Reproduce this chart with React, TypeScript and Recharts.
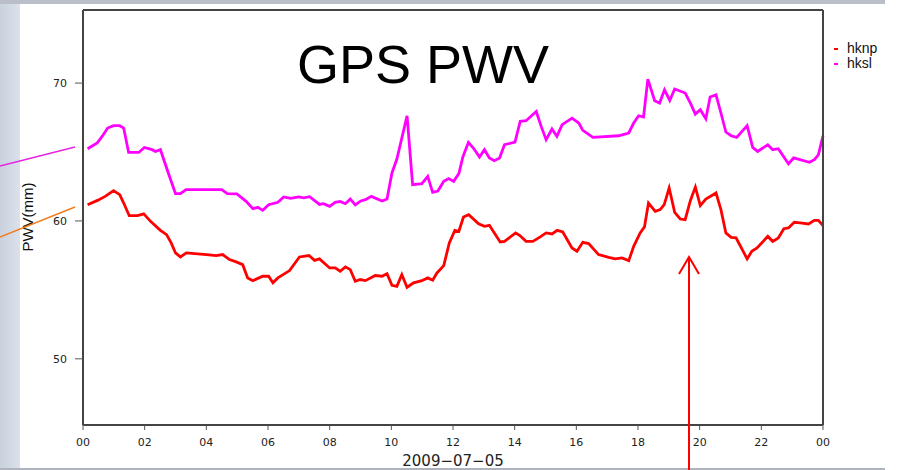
import React from 'react';
import { LineChart, Line, XAxis, YAxis, Legend } from 'recharts';

// hours of day on 2009-07-05, 0 = 00:00, 24 = next 00:00
const hourTicks = [0, 2, 4, 6, 8, 10, 12, 14, 16, 18, 20, 22, 24];
const pwvTicks = [50, 60, 70];

const hknpHours = [
  0.15, 0.47, 0.72, 0.99, 1.19, 1.32, 1.5, 1.77, 1.97, 2.19, 2.51, 2.71, 2.86, 3.0, 3.16, 3.35,
  4.0, 4.32, 4.53, 4.75, 4.97, 5.18, 5.34, 5.51, 5.83, 6.02, 6.16, 6.32, 6.7, 7.02, 7.33, 7.51,
  7.67, 8.0, 8.18, 8.34, 8.51, 8.67, 8.83, 8.99, 9.16, 9.48, 9.7, 9.86, 10.02, 10.18, 10.34, 10.51,
  10.72, 10.99, 11.18, 11.34, 11.48, 11.7, 11.88, 12.06, 12.19, 12.34, 12.51, 12.83, 13.02, 13.18,
  13.53, 13.67, 14.03, 14.16, 14.37, 14.59, 14.83, 15.02, 15.21, 15.38, 15.56, 15.86, 16.02, 16.21,
  16.4, 16.72, 17.05, 17.26, 17.48, 17.7, 17.86, 18.07, 18.21, 18.34, 18.56, 18.72, 18.85, 19.01,
  19.19, 19.37, 19.53, 19.7, 19.86, 20.02, 20.2, 20.53, 20.69, 20.85, 21.02, 21.18, 21.54, 21.69,
  21.86, 22.21, 22.37, 22.55, 22.73, 22.88, 23.07, 23.26, 23.53, 23.72, 23.85, 24.0,
];
const hknpPwv = [
  61.18, 61.49, 61.78, 62.2, 61.91, 61.3, 60.38, 60.38, 60.51, 59.97, 59.32, 59.01, 58.41, 57.68, 57.39, 57.68,
  57.56, 57.49, 57.56, 57.2, 57.03, 56.83, 55.87, 55.67, 55.99, 55.99, 55.51, 55.87, 56.4, 57.39, 57.49, 57.14,
  57.25, 56.59, 56.59, 56.35, 56.67, 56.47, 55.62, 55.75, 55.67, 56.04, 55.99, 56.18, 55.33, 55.26, 56.11, 55.19,
  55.51, 55.67, 55.87, 55.7, 56.23, 56.76, 58.41, 59.32, 59.25, 60.29, 60.46, 59.8, 59.61, 59.68,
  58.48, 58.52, 59.13, 58.96, 58.52, 58.52, 58.84, 59.13, 59.06, 59.32, 59.2, 58.04, 57.8, 58.45,
  58.36, 57.56, 57.36, 57.25, 57.32, 57.12, 58.16, 59.13, 59.57, 61.3, 60.7, 60.82, 61.18, 62.39,
  60.62, 60.14, 60.09, 61.49, 62.46, 61.11, 61.59, 62.03, 60.82, 59.13, 58.81, 58.77, 57.25, 57.8,
  58.04, 58.88, 58.52, 58.77, 59.44, 59.49, 59.9, 59.86, 59.78, 60.04, 60.04, 59.66,
];

const hkslHours = [
  0.15, 0.46, 0.62, 0.8, 0.99, 1.19, 1.32, 1.48, 1.81, 1.99, 2.24, 2.35, 2.51, 2.75, 3.0, 3.16,
  3.34, 4.0, 4.5, 4.68, 4.99, 5.29, 5.51, 5.67, 5.83, 6.02, 6.32, 6.51, 6.73, 6.99, 7.16, 7.35,
  7.67, 7.8, 8.0, 8.18, 8.34, 8.51, 8.67, 8.83, 9.01, 9.16, 9.35, 9.7, 9.86, 10.02, 10.18, 10.51,
  10.69, 10.99, 11.18, 11.34, 11.51, 11.7, 11.86, 12.02, 12.19, 12.32, 12.5, 12.66, 12.86, 13.02,
  13.18, 13.34, 13.51, 13.67, 14.01, 14.18, 14.37, 14.7, 14.86, 15.02, 15.21, 15.37, 15.54, 15.86,
  16.08, 16.21, 16.54, 17.37, 17.7, 17.86, 18.02, 18.18, 18.32, 18.54, 18.7, 18.86, 19.03, 19.19,
  19.53, 19.7, 19.86, 20.02, 20.2, 20.34, 20.53, 20.69, 20.85, 21.02, 21.2, 21.54, 21.72, 21.88,
  22.21, 22.37, 22.55, 22.88, 23.05, 23.56, 23.72, 23.85, 24.0,
];
const hkslPwv = [
  65.24, 65.65, 66.13, 66.74, 66.91, 66.91, 66.74, 64.97, 64.97, 65.33, 65.17, 65.04, 65.17, 63.59, 61.98, 61.98,
  62.27, 62.27, 62.27, 61.98, 61.96, 61.42, 60.89, 60.99, 60.77, 61.18, 61.35, 61.74, 61.64, 61.74, 61.67, 61.76,
  61.2, 61.25, 61.06, 61.35, 61.42, 61.25, 61.59, 61.16, 61.45, 61.54, 61.78, 61.45, 61.59, 63.48, 64.49, 67.63,
  62.63, 62.7, 63.23, 62.07, 62.17, 62.87, 63.07, 62.87, 63.43, 64.64, 65.7, 65.29, 64.64, 65.17,
  64.57, 64.37, 64.57, 65.53, 65.72, 67.22, 67.27, 67.94, 66.86, 65.89, 66.67, 66.13, 66.98, 67.46,
  67.1, 66.57, 66.06, 66.18, 66.38, 67.1, 67.63, 67.54, 70.29, 68.72, 68.55, 69.51, 68.74, 69.57,
  69.28, 68.55, 67.75, 68.07, 67.41, 68.99, 69.15, 67.83, 66.45, 66.18, 66.06, 66.91, 65.33, 65.04,
  65.53, 65.17, 65.24, 64.15, 64.57, 64.25, 64.44, 64.8, 66.18,
];

const hknpData = hknpHours.map((h, i) => ({ h, v: hknpPwv[i] }));
const hkslData = hkslHours.map((h, i) => ({ h, v: hkslPwv[i] }));

const tickFont = { fontFamily: '"DejaVu Sans", sans-serif', fontSize: 11, fill: '#222' };
const axisLine = { stroke: '#444', strokeWidth: 2 };
const tickLine = { stroke: '#555', strokeWidth: 1 };

const hourLabel = (h: number) => String(h % 24).padStart(2, '0');

const renderLegend = (props: any) => (
  <div style={{ fontFamily: '"Liberation Sans", Arial, sans-serif', fontSize: 14, lineHeight: '15px', color: '#111' }}>
    {(props.payload || []).map((p: any) => (
      <div key={p.value} style={{ whiteSpace: 'nowrap' }}>
        <span style={{ display: 'inline-block', width: 4, height: 2, background: p.color, verticalAlign: 'middle', marginRight: 9 }} />
        {p.value}
      </div>
    ))}
  </div>
);

export default function App() {
  return (
    <div style={{ position: 'fixed', left: 0, top: 0, width: 899, height: 470, background: '#fff', overflow: 'hidden' }}>
      {/* slide background */}
      <div style={{ position: 'absolute', left: 0, top: 0, width: 20, height: 470, background: 'linear-gradient(90deg, #c9d1de, #dce1ea)' }} />
      <div style={{ position: 'absolute', left: 0, top: 0, width: 885, height: 4, background: '#b9bec8' }} />
      <div style={{ position: 'absolute', left: 0, top: 468, width: 885, height: 2, background: '#aeb3bd' }} />

      <div style={{ position: 'absolute', left: 0, top: 0 }}>
        <LineChart width={899} height={470} margin={{ top: 0, right: 66, bottom: 15, left: 43 }}>
          <XAxis
            dataKey="h"
            type="number"
            domain={[0, 24]}
            ticks={hourTicks}
            tickFormatter={hourLabel}
            interval={0}
            height={30}
            tickSize={5}
            tickMargin={8}
            tick={tickFont}
            axisLine={axisLine}
            tickLine={tickLine}
          />
          <XAxis
            xAxisId="top"
            orientation="top"
            type="number"
            domain={[0, 24]}
            ticks={hourTicks}
            interval={0}
            height={10}
            tickSize={6}
            tick={false}
            axisLine={axisLine}
            tickLine={tickLine}
          />
          <YAxis
            type="number"
            domain={[45.2, 75.3]}
            ticks={pwvTicks}
            width={40}
            tickSize={8}
            tickMargin={8}
            tick={tickFont}
            axisLine={axisLine}
            tickLine={tickLine}
          />
          <YAxis
            yAxisId="right"
            orientation="right"
            type="number"
            domain={[45.2, 75.3]}
            ticks={pwvTicks}
            width={10}
            tickSize={8}
            tick={false}
            axisLine={axisLine}
            tickLine={tickLine}
          />
          <Legend
            layout="vertical"
            align="center"
            verticalAlign="middle"
            content={renderLegend}
            wrapperStyle={{ left: 834, top: 41, width: 62 }}
          />
          <Line data={hknpData} dataKey="v" name="hknp" stroke="#ff0000" strokeWidth={2.8} dot={false} isAnimationActive={false} />
          <Line data={hkslData} dataKey="v" name="hksl" stroke="#ff00ff" strokeWidth={2.8} dot={false} isAnimationActive={false} />
        </LineChart>
      </div>

      {/* slide annotations */}
      <svg width={899} height={470} style={{ position: 'absolute', left: 0, top: 0, pointerEvents: 'none' }}>
        <text x={297} y={83} fontFamily='"Liberation Sans", Arial, sans-serif' fontSize={54} fill="#000">GPS PWV</text>
        <text x={453} y={466} textAnchor="middle" fontFamily='"DejaVu Sans", sans-serif' fontSize={15} fill="#222">2009−07−05</text>
        <text x={33} y={217} transform="rotate(-90 33 217)" textAnchor="middle" fontFamily='"Liberation Sans", Arial, sans-serif' fontSize={15} fill="#111">PWV(mm)</text>
        <line x1={0} y1={166} x2={75} y2={147} stroke="#e324e3" strokeWidth={1.5} />
        <line x1={0} y1={237} x2={75} y2={207} stroke="#ef7d1e" strokeWidth={1.5} />
        <line x1={689} y1={470} x2={689} y2={257} stroke="#ff0000" strokeWidth={2} />
        <polyline points="679,274 689,257 699,274" fill="none" stroke="#ff0000" strokeWidth={2} />
      </svg>
    </div>
  );
}
